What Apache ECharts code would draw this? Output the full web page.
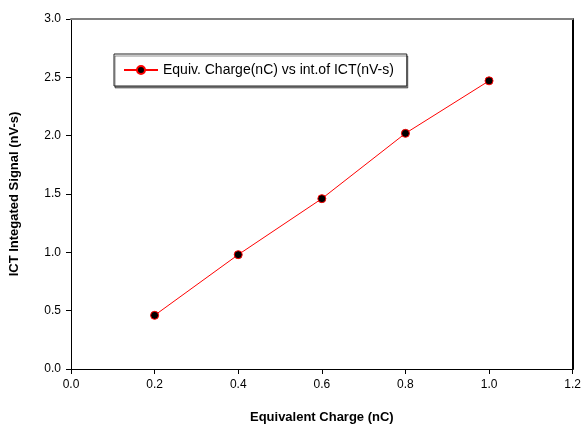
<!DOCTYPE html>
<html>
<head>
<meta charset="utf-8">
<script src="https://cdn.jsdelivr.net/npm/echarts@6/dist/echarts.min.js"></script>
<style>
  html, body { margin: 0; padding: 0; background: #fff; }
  #chart { width: 584px; height: 429px; }
</style>
</head>
<body>
<div id="chart"></div>
<script>
// charge (nC) vs integrated ICT signal (nV-s)
const charge = [0.2, 0.4, 0.6, 0.8, 1.0]
const signal = [0.46, 0.98, 1.46, 2.02, 2.47]
const seriesName = 'Equiv. Charge(nC) vs int.of ICT(nV-s)'
const xRange = [0, 1.2]
const yRange = [0, 3.0]

const font = 'Liberation Sans, Arial, sans-serif'
const tickLabel = { color: '#000', fontSize: 12, fontFamily: font, margin: 10 }
const titleStyle = { color: '#000', fontSize: 13, fontWeight: 'bold', fontFamily: font }
const clear = 'rgba(0,0,0,0)'

// plain frame axis (top / right), set up like the test run where it showed
const frameAxis = (position, min, max, color) => ({
  type: 'value',
  position,
  min,
  max,
  z: 10,
  axisLine: { show: true, onZero: false, lineStyle: { color, width: 2 } },
  axisTick: { lineStyle: { color: clear } },
  axisLabel: { show: false },
  splitLine: { lineStyle: { color: clear } }
})

const chart = echarts.init(document.getElementById('chart'))
chart.setOption({
  animation: false,
  grid: { left: 70, right: 9, top: 19, bottom: 59 },
  legend: {
    left: 114,
    top: 54,
    padding: [9, 13, 9, 9],
    itemWidth: 34,
    itemHeight: 10,
    borderColor: '#222',
    borderWidth: 1,
    shadowColor: 'rgba(0,0,0,0.45)',
    shadowOffsetX: 1,
    shadowOffsetY: 2,
    shadowBlur: 0,
    backgroundColor: '#fff',
    textStyle: { color: '#000', fontSize: 14, fontFamily: font },
    data: [seriesName]
  },
  xAxis: [{
    type: 'value',
    min: xRange[0],
    max: xRange[1],
    interval: 0.2,
    name: 'Equivalent Charge (nC)',
    nameLocation: 'middle',
    nameGap: 42,
    nameTextStyle: titleStyle,
    axisLine: { onZero: false, lineStyle: { color: '#000', width: 1 } },
    axisTick: { show: true, length: 5, lineStyle: { color: '#000' } },
    axisLabel: Object.assign({ formatter: v => v.toFixed(1) }, tickLabel),
    splitLine: { show: false }
  }, frameAxis('top', xRange[0], xRange[1], '#808080')],
  yAxis: [{
    type: 'value',
    min: yRange[0],
    max: yRange[1],
    interval: 0.5,
    name: 'ICT Integated Signal (nV-s)',
    nameLocation: 'middle',
    nameGap: 50,
    nameTextStyle: titleStyle,
    axisLine: { show: true, onZero: false, lineStyle: { color: '#000', width: 1 } },
    axisTick: { show: true, length: 5, lineStyle: { color: '#000' } },
    axisLabel: Object.assign({ formatter: v => v.toFixed(1) }, tickLabel),
    splitLine: { show: false }
  }, frameAxis('right', yRange[0], yRange[1], '#000')],
  series: [{
    name: seriesName,
    type: 'line',
    data: charge.map((c, i) => [c, signal[i]]),
    symbol: 'circle',
    symbolSize: 8,
    color: '#ff0000',
    lineStyle: { color: '#ff0000', width: 1 },
    itemStyle: { color: '#000', borderColor: '#ff0000', borderWidth: 1 }
  }]
})
</script>
</body>
</html>
